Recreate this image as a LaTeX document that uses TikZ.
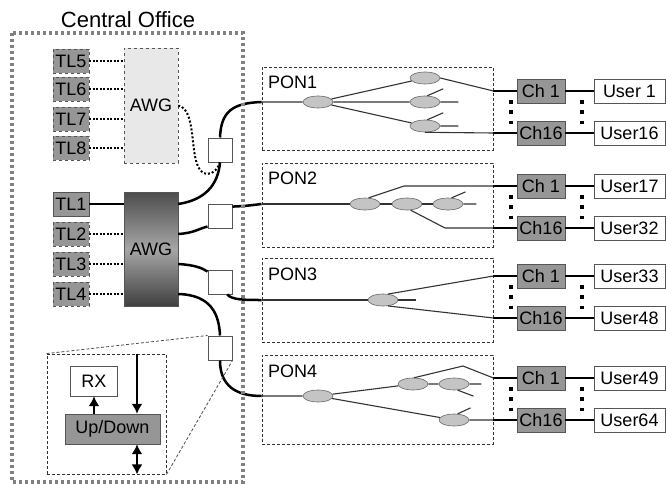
\documentclass[tikz,border=0pt]{standalone}
\usepackage{fontspec}
\setmainfont{Liberation Sans}
\usetikzlibrary{shapes.geometric,arrows.meta}

\definecolor{boxgray}{RGB}{150,150,150}
\definecolor{awglight}{RGB}{232,232,232}
\definecolor{splitgray}{RGB}{196,196,196}
\definecolor{edgegray}{RGB}{85,85,85}
\definecolor{cogray}{RGB}{128,128,128}

\begin{document}
\begin{tikzpicture}[
        x=1pt, y=-1pt,
        every node/.style={font=\fontsize{18}{18}\selectfont, inner sep=0pt},
        tlbox/.style={draw=edgegray, fill=boxgray, minimum width=36, minimum height=24},
        chbox/.style={draw=edgegray, fill=boxgray, minimum width=48, minimum height=24},
        userbox/.style={draw=edgegray, fill=white, minimum width=71, minimum height=24},
        sqbox/.style={draw=edgegray, fill=white, line width=1pt, minimum size=24},
        ponbox/.style={draw=black!80, dash pattern=on 3pt off 2pt, line width=0.9pt, minimum width=231},
        split/.style={ellipse, draw=black!60, line width=0.6pt, fill=splitgray, minimum width=30, minimum height=12},
        fiber/.style={line width=2.5pt, black},
        pline/.style={line width=1.1pt, black!80},
        tldots/.style={line width=2pt, dash pattern=on 2pt off 1.5pt},
        vdots/.style={line width=3.5pt, dash pattern=on 3.5pt off 6.75pt},
        arr/.style={line width=2.5pt},
        tip/.tip={Latex[length=10pt,width=11pt]}
    ]
    \useasboundingbox (0,0) rectangle (666,484);

    \node[font=\fontsize{22}{22}\selectfont] (cotitle) at (128,20) {Central Office};

    % spare tunable lasers
    \node[tlbox, fill=awglight, dashed, minimum width=54, minimum height=115] (awgb) at (151,105.5) {AWG};
    \foreach \n/\y in {5/61,6/89,7/119,8/148}{
        \node[tlbox, dashed] (tl\n) at (71,\y) {TL\n};
        \draw[tldots] (tl\n) -- (awgb.west |- tl\n);
    }

    % working lasers
    \node[draw=edgegray, top color=black!70, bottom color=black!75, middle color=black!35,
        minimum width=54, minimum height=114] (awga) at (151,249) {AWG};
    \node[tlbox] (tl1) at (71,204) {TL1};
    \draw[line width=2pt] (tl1) -- (awga.west |- tl1);
    \foreach \n/\y in {2/234,3/264,4/294}{
        \node[tlbox, dashed] (tl\n) at (71,\y) {TL\n};
        \draw[tldots] (tl\n) -- (awga.west |- tl\n);
    }

    \node[sqbox] (sq1) at (220,150) {};
    \node[sqbox] (sq2) at (220,216) {};
    \node[sqbox] (sq3) at (220,282) {};
    \node[sqbox] (sq4) at (220,348) {};

    % PONs, channels and users
    \foreach \i/\ytop/\ybot/\ylbl/\ya/\yb/\ua/\ub in {
            1/67/150/82/91/133/User 1/User16,
            2/163/247/178/186/228/User17/User32,
            3/258/342/274/276/318/User33/User48,
            4/355/444/371/378/420/User49/User64}{
        \node[ponbox, minimum height={\ybot-\ytop}] (pon\i) at (377.5,{(\ytop+\ybot)/2}) {};
        \node[anchor=west] (ponlbl\i) at (268,\ylbl) {PON\i};
        \node[chbox] (cha\i) at (541,\ya) {Ch 1};
        \node[chbox] (chb\i) at (541,\yb) {Ch16};
        \node[userbox] (usa\i) at (629.5,\ya) {\ua};
        \node[userbox] (usb\i) at (629.5,\yb) {\ub};
        \draw[fiber] (pon\i.east |- cha\i) -- (cha\i) (cha\i) -- (usa\i);
        \draw[fiber] (pon\i.east |- chb\i) -- (chb\i) (chb\i) -- (usb\i);
        \draw[vdots] ([shift={(-6,-3)}]cha\i.south west) -- ([shift={(-6,3)}]chb\i.north west);
        \draw[vdots] ([shift={(-12,-3)}]usa\i.south west) -- ([shift={(-12,3)}]usb\i.north west);
    }

    % PON1
    \node[split] (s11) at (318,102) {};
    \node[split] (s12) at (425,78) {};
    \node[split] (s13) at (425,102) {};
    \node[split] (s14) at (425,126) {};
    \draw[pline] (pon1.west |- s11) -- (s11) (s11) -- (s12) (s11) -- (s13) (s11) -- (s14);
    \draw[pline] (s12.east) -- (pon1.east |- cha1);
    \draw[pline] (s13.east) -- ++(18,0) (s13.70) -- ++(16,-7);
    \draw[pline] (s14.east) -- ++(18,0) (s14.70) -- ++(16,-7);
    \draw[pline] (s14.south) -- (pon1.east |- chb1);

    % PON2
    \node[split] (s21) at (365,204) {};
    \node[split] (s22) at (407,204) {};
    \node[split] (s23) at (448,204) {};
    \coordinate (b21) at (404,186);
    \coordinate (b22) at (445,228);
    \draw[pline] (pon2.west |- s21) -- (s21) (s21) -- (s22) (s22) -- (s23);
    \draw[pline] (s23.east) -- ++(13,0) (s23.60) -- ++(14,-6);
    \draw[pline] (s21.60) -- (b21) -- (pon2.east |- cha2);
    \draw[pline] (s22.-60) -- (b22) -- (pon2.east |- chb2);

    % PON3
    \node[split] (s31) at (383,300) {};
    \draw[pline] (pon3.west |- s31) -- (s31) (s31.east) -- ++(18,0);
    \draw[pline] (s31.50) -- (pon3.east |- cha3);
    \draw[pline] (s31.-50) -- (pon3.east |- chb3);

    % PON4
    \node[split] (s41) at (318,396) {};
    \node[split] (s42) at (413,384) {};
    \node[split] (s43) at (454,384) {};
    \node[split] (s44) at (454,420) {};
    \coordinate (b41) at (463,366);
    \draw[pline] (pon4.west |- s41) -- (s41) (s41) -- (s42) (s42) -- (s43) (s41) -- (s44);
    \draw[pline] (s43.east) -- ++(12,0) (s43.-60) -- ++(16,6);
    \draw[pline] (s42.80) -- (b41) -- (pon4.east |- cha4);
    \draw[pline] (s44.east) -- (pon4.east |- chb4) (s44.60) -- ++(13,-6);

    % feeder fibres
    \draw[fiber] (awga.east |- tl1) .. controls (205,200) and (218,185) .. (sq1.south);
    \draw[fiber] (sq1.north) .. controls (221,112) and (232,103) .. (pon1.west |- s11);
    \draw[line width=2pt, dash pattern=on 2pt off 2pt] (awgb.east) .. controls (200,110) and (186,172) .. (207,174)
        .. controls (214,174) and (218,168) .. (sq1.south);
    \draw[fiber] (awga.east |- tl2) .. controls (195,233) and (200,228) .. (sq2.-140);
    \draw[fiber] (sq2.37) .. controls (245,206) .. (pon2.west |- s21);
    \draw[fiber] (awga.east |- tl3) .. controls (195,265) and (202,268) .. (sq3.140);
    \draw[fiber] (sq3.-60) .. controls (232,300) and (245,300) .. (pon3.west |- s31);
    \draw[fiber] (awga.east |- tl4) .. controls (212,295) and (219,315) .. (sq4.north);
    \draw[fiber] (sq4.south) .. controls (220,385) and (235,396) .. (pon4.west |- s41);

    % transceiver detail
    \node[draw=black!80, dash pattern=on 3pt off 2pt, line width=0.9pt,
        minimum width=119, minimum height=120] (zoombox) at (106.5,414) {};
    \node[draw=edgegray, fill=white, minimum width=47, minimum height=30] (rx) at (94,381) {RX};
    \node[draw=edgegray, fill=boxgray, minimum width=95, minimum height=30] (updown) at (112.5,429) {Up/Down};
    \coordinate (dn) at (137,354);
    \draw[arr,-tip] (updown.north -| rx) -- (rx);
    \draw[arr,-tip] (dn) -- (dn |- updown.north);
    \draw[arr,tip-tip] (updown.south -| dn) -- (zoombox.south -| dn);
    \draw[black!70, dash pattern=on 3pt off 2pt, line width=0.8pt] (zoombox.north west) -- (sq4.north west);
    \draw[black!70, dash pattern=on 3pt off 2pt, line width=0.8pt] (zoombox.south east) -- (sq4.south east);

    \draw[cogray, line width=3.5pt, dash pattern=on 3pt off 3pt] (12,33) rectangle (243,482);
\end{tikzpicture}
\end{document}
